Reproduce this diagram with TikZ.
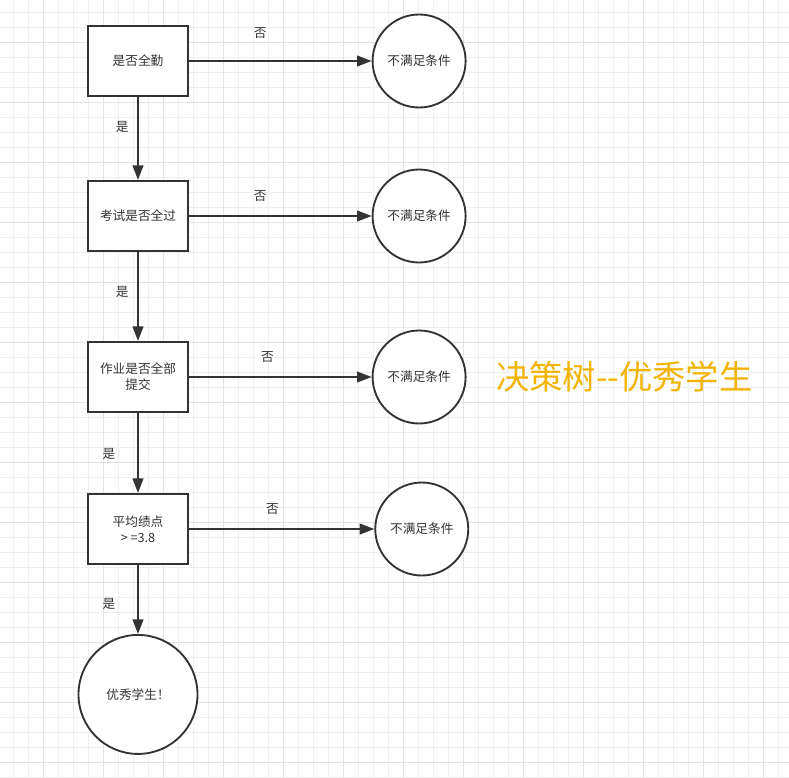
\documentclass[tikz,border=0pt]{standalone}
\usepackage{fontspec}
\setmainfont{Noto Sans CJK SC}
\usetikzlibrary{positioning,arrows.meta}
\definecolor{linegray}{HTML}{333333}
\definecolor{gridminor}{HTML}{EFEFEF}
\definecolor{gridmajor}{HTML}{E2E2E2}
\definecolor{titleorange}{RGB}{242,180,0}

\begin{document}
\begin{tikzpicture}[
  x=0.75pt, y=-0.75pt,
  blk/.style={draw=linegray, line width=1.5pt, fill=white, align=center,
              font=\fontsize{9.5pt}{12pt}\selectfont, text=linegray,
              minimum width=75pt, minimum height=52.5pt, inner sep=2pt},
  endc/.style={draw=linegray, line width=1.4pt, fill=white, circle,
               font=\fontsize{9.5pt}{12pt}\selectfont, text=linegray,
               minimum size=69.75pt, inner sep=1pt},
  arr/.style={-{Triangle[length=11pt,width=8pt]}, line width=1.5pt, draw=linegray},
  lbl/.style={font=\fontsize{9.5pt}{12pt}\selectfont, text=linegray}
]
\useasboundingbox (0,0) rectangle (789,778);
\fill[white] (0,0) rectangle (789,778);
% grid paper
\foreach \gx in {13,28,...,788} \draw[gridminor, line width=0.6pt] (\gx,0) -- (\gx,778);
\foreach \gy in {12,27,...,777} \draw[gridminor, line width=0.6pt] (0,\gy) -- (789,\gy);
\foreach \gx in {43,103,...,763} \draw[gridmajor, line width=0.6pt] (\gx,0) -- (\gx,778);
\foreach \gy in {42,102,...,762} \draw[gridmajor, line width=0.6pt] (0,\gy) -- (789,\gy);

% decision steps
\node[blk] (q1) at (138,61) {是否全勤};
\node[blk, below=62.25pt of q1] (q2) {考试是否全过};
\node[blk, below=66.75pt of q2] (q3) {作业是否全部\\提交};
\node[blk, below=60pt of q3] (q4) {平均绩点\\> =3.8};
\node[endc, minimum size=89.25pt, below=51.75pt of q4] (good) {优秀学生！};

% rejections
\node[endc, right=137pt of q1] (no1) {不满足条件};
\node[endc, right=137pt of q2] (no2) {不满足条件};
\node[endc, right=137pt of q3] (no3) {不满足条件};
\node[endc, right=139pt of q4] (no4) {不满足条件};

\node[right=22pt of no3, font=\fontsize{25pt}{29pt}\selectfont, text=titleorange,
      inner sep=0pt] (title) {决策树{-}{-}优秀学生};

\draw[arr] (q1) -- node[lbl, pos=0.36, left=3pt] {是} (q2);
\draw[arr] (q2) -- node[lbl, pos=0.45, left=3pt] {是} (q3);
\draw[arr] (q3) -- node[lbl, pos=0.51, left=13pt] {是} (q4);
\draw[arr] (q4) -- node[lbl, pos=0.56, left=13pt] {是} (good);

\draw[arr] (q1) -- node[lbl, pos=0.39, above=12.5pt] {否} (no1);
\draw[arr] (q2) -- node[lbl, pos=0.39, above=7pt] {否} (no2);
\draw[arr] (q3) -- node[lbl, pos=0.43, above=6.5pt] {否} (no3);
\draw[arr] (q4) -- node[lbl, pos=0.45, above=6.5pt] {否} (no4);
\end{tikzpicture}
\end{document}
